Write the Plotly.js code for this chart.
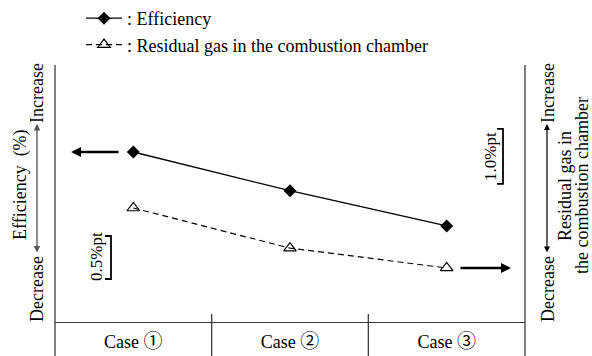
<!DOCTYPE html>
<html>
<head>
<meta charset="utf-8">
<script src="https://cdn.plot.ly/plotly-3.0.1.min.js"></script>
<style>html,body{margin:0;padding:0;background:#fff;}#chart{width:592px;height:356px;}</style>
</head>
<body>
<div id="chart"></div>
<script>
// ---- data ----
var cases = ['Case \u2460', 'Case \u2461', 'Case \u2462'];
var efficiency = [0, -0.45, -0.86];          // relative efficiency, %pt
var residualGas = [0, -0.73, -1.09];         // relative residual gas, %pt
var seriesNames = [': Efficiency', ': Residual gas in the combustion chamber'];

var FONT = '"Liberation Serif", "Times New Roman", "Noto Sans CJK JP", serif';
var W = 592, H = 356, L = 55, R = 67, T = 65, B = 34;
var PW = W - L - R, PH = H - T - B;
function px(x) { return (x - L) / PW; }
function py(y) { return (H - B - y) / PH; }

// tick text: circled digits drawn with a CJK font (larger circles)
var caseTickText = cases.map(function (c) {
  return c.replace(/([\u2460-\u2473])/g, '<span style="font-family:\'Noto Sans CJK JP\';font-size:19px">$1</span>');
});

var traces = [
  {x: cases, y: efficiency, name: seriesNames[0], type: 'scatter', mode: 'lines+markers',
   yaxis: 'y', legendgroup: 'a',
   line: {color: '#000', width: 1.3},
   marker: {symbol: 'diamond', size: 10, color: '#000'}},
  {x: cases, y: residualGas, name: seriesNames[1], type: 'scatter', mode: 'lines+markers',
   yaxis: 'y2', legendgroup: 'b',
   line: {color: '#000', width: 1.2, dash: '6px,4px'},
   marker: {symbol: 'triangle-up-open', size: 11, color: '#000', line: {width: 1.2}}}
];

var lineCol = '#3a3a3a';
var shapes = [
  {type: 'line', xref: 'paper', yref: 'paper', x0: 0, x1: 0, y0: py(356), y1: 1, line: {color: lineCol, width: 1.3}},
  {type: 'line', xref: 'paper', yref: 'paper', x0: 1, x1: 1, y0: py(356), y1: 1, line: {color: lineCol, width: 1.3}},
  {type: 'line', xref: 'x', yref: 'paper', x0: 0.5, x1: 0.5, y0: py(356), y1: py(314), line: {color: lineCol, width: 1.3}},
  {type: 'line', xref: 'x', yref: 'paper', x0: 1.5, x1: 1.5, y0: py(356), y1: py(314), line: {color: lineCol, width: 1.3}},
  // 0.5%pt bracket (efficiency scale)
  {type: 'path', xref: 'paper', yref: 'y',
   path: 'M ' + px(105) + ',-0.977 L ' + px(111) + ',-0.977 L ' + px(111) + ',-1.477 L ' + px(105) + ',-1.477',
   line: {color: '#000', width: 1.8}},
  // 1.0%pt bracket (residual gas scale)
  {type: 'path', xref: 'paper', yref: 'y2',
   path: 'M ' + px(497) + ',1.44 L ' + px(503) + ',1.44 L ' + px(503) + ',0.44 L ' + px(497) + ',0.44',
   line: {color: '#000', width: 1.8}}
];

var ann = [];
function txt(x, y, s, size) {
  ann.push({xref: 'paper', yref: 'paper', x: px(x), y: py(y), text: s, showarrow: false,
    textangle: -90, xanchor: 'center', yanchor: 'middle', font: {family: FONT, size: size || 18, color: '#000'}});
}
txt(37, 93, 'Increase');
txt(37, 289, 'Decrease');
txt(20, 185, 'Efficiency\u2002(%)');
txt(548, 93, 'Increase');
txt(548, 289, 'Decrease');
txt(565, 186, 'Residual gas in');
txt(582, 186, 'the combustion chamber');
txt(96, 257, '0.5%pt', 17);
txt(490, 157, '1.0%pt', 17);
// double arrows
ann.push({xref: 'paper', yref: 'paper', x: px(37), y: py(124), ax: 0, ay: 130, text: '', showarrow: true,
  arrowside: 'end+start', arrowhead: 2, arrowsize: 1, arrowwidth: 1.3, arrowcolor: '#555'});
ann.push({xref: 'paper', yref: 'paper', x: px(547), y: py(124), ax: 0, ay: 130, text: '', showarrow: true,
  arrowside: 'end+start', arrowhead: 2, arrowsize: 1, arrowwidth: 1.2, arrowcolor: '#000'});
// axis pointer arrows
ann.push({xref: 'paper', yref: 'y', x: px(71), y: efficiency[0], ax: 49, ay: 0, text: '', showarrow: true,
  arrowhead: 2, arrowsize: 0.8, arrowwidth: 2.5, arrowcolor: '#000'});
ann.push({xref: 'paper', yref: 'y2', x: px(511), y: residualGas[2], ax: -52, ay: 0, text: '', showarrow: true,
  arrowhead: 2, arrowsize: 0.8, arrowwidth: 2.5, arrowcolor: '#000'});

var layout = {
  width: W, height: H,
  margin: {l: L, r: R, t: T, b: B, autoexpand: false},
  paper_bgcolor: '#fff', plot_bgcolor: '#fff',
  font: {family: FONT, color: '#000'},
  showlegend: true,
  legend: {xref: 'container', yref: 'container', x: 81 / W, y: 1, xanchor: 'left', yanchor: 'top', itemwidth: 36,
    font: {family: FONT, size: 18, color: '#000'}, tracegroupgap: 0, bgcolor: 'rgba(0,0,0,0)'},
  xaxis: {type: 'category', range: [-0.5, 2.5], showgrid: false, zeroline: false,
    showline: true, linecolor: lineCol, linewidth: 1.3, ticks: '', ticklabelstandoff: 3,
    tickmode: 'array', tickvals: cases, ticktext: caseTickText,
    tickfont: {family: FONT, size: 18, color: '#000'}, fixedrange: true},
  yaxis: {range: [-1.9767, 1.0116], showgrid: false, zeroline: false, showline: false,
    showticklabels: false, ticks: ''},
  yaxis2: {range: [-2.0727, 2.6], overlaying: 'y', side: 'right', showgrid: false, zeroline: false,
    showline: false, showticklabels: false, ticks: ''},
  shapes: shapes,
  annotations: ann
};

Plotly.newPlot('chart', traces, layout, {displayModeBar: false, staticPlot: true});
</script>
</body>
</html>
